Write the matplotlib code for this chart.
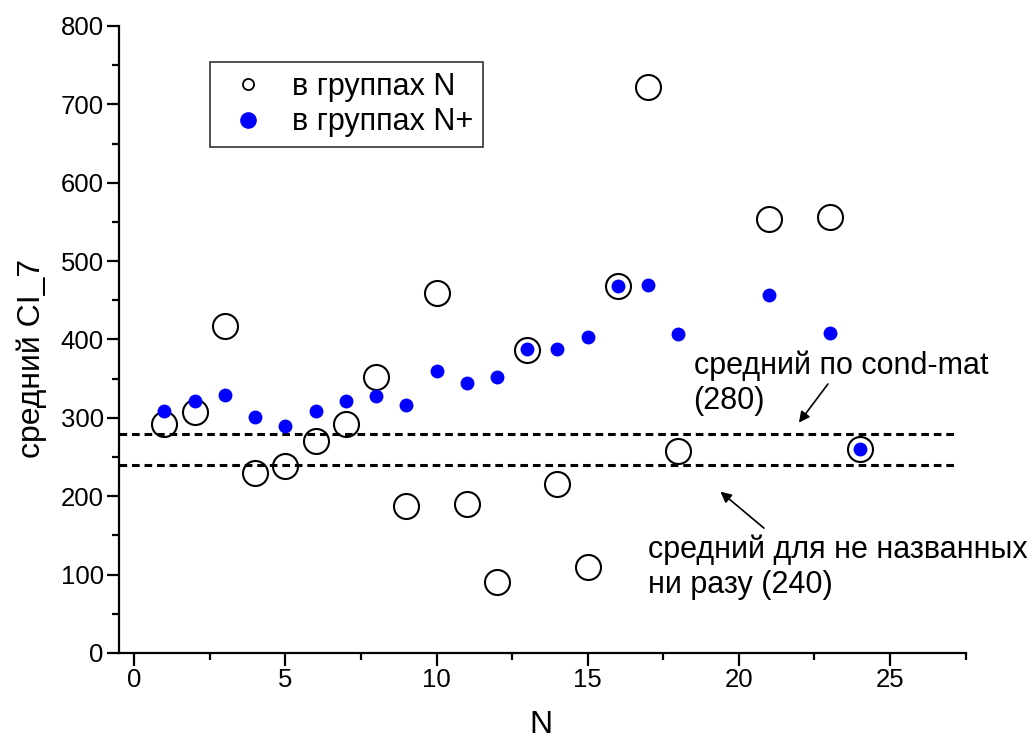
import numpy as np
import matplotlib.pyplot as plt
from matplotlib.lines import Line2D
from matplotlib.ticker import MultipleLocator

plt.rcParams['font.family'] = ['Liberation Sans', 'DejaVu Sans']

# group size N and the mean CI_7 for each group
n_pos = [1, 2, 3, 4, 5, 6, 7, 8, 9, 10, 11, 12, 13, 14, 15, 16, 17, 18, 21, 23, 24]
ci_n = [292, 307, 417, 230, 239, 270, 292, 352, 188, 459, 190, 91, 386, 216,
        110, 468, 722, 258, 554, 556, 260]
ci_nplus = [309, 321, 329, 301, 290, 309, 321, 328, 316, 360, 344, 352, 388, 388,
            403, 468, 469, 407, 457, 408, 260]

# reference means
mean_condmat = 280
mean_unnamed = 240

fig = plt.figure(figsize=(10.35, 7.42), dpi=100)
ax = fig.add_axes([0.115, 0.12, 0.818, 0.845])

ax.plot(n_pos, ci_n, 'o', ms=18, mfc='none', mec='k', mew=1.5, zorder=3)
ax.plot(n_pos, ci_nplus, 'o', ms=10, mfc='#0000ff', mec='#0000ff', mew=0, zorder=4)

for val in (mean_condmat, mean_unnamed):
    ln, = ax.plot([-0.5, 27.25], [val, val], color='k', lw=2.2)
    ln.set_dashes((2.5, 1.6))

ax.set_xlim(-0.5, 27.5)
ax.set_ylim(0, 800)

for s in ('top', 'right'):
    ax.spines[s].set_visible(False)
for s in ('left', 'bottom'):
    ax.spines[s].set_linewidth(1.6)

ax.xaxis.set_major_locator(MultipleLocator(5))
ax.xaxis.set_minor_locator(MultipleLocator(2.5))
ax.yaxis.set_major_locator(MultipleLocator(100))
ax.yaxis.set_minor_locator(MultipleLocator(50))
ax.tick_params(which='major', direction='out', length=9, width=1.6, labelsize=18.5, pad=2)
ax.tick_params(which='minor', direction='out', length=5, width=1.6)

ax.set_xlabel('N', fontsize=23)
ax.set_ylabel('средний CI_7', fontsize=23)
ax.xaxis.label.set_va('baseline')
ax.xaxis.set_label_coords(0.498, -0.128)
ax.yaxis.set_label_coords(-0.085, 0.47)

handles = [
    Line2D([], [], ls='none', marker='o', ms=8, mfc='none', mec='k', mew=1.3),
    Line2D([], [], ls='none', marker='o', ms=12, mfc='#0000ff', mec='#0000ff', mew=0),
]
leg = ax.legend(handles, ['в группах N', 'в группах N+'], loc='upper left',
                bbox_to_anchor=(0.1074, 0.9426), borderaxespad=0, fontsize=22,
                frameon=True, fancybox=False, edgecolor='k', handletextpad=0.52,
                borderpad=0.32, labelspacing=0.18, handlelength=1.84)
leg.get_frame().set_linewidth(1.2)

# two-line notes, anchored at the baseline of their last line
ax.text(18.5, 311, 'средний по cond-mat\n(280)', fontsize=22, va='baseline',
        ha='left', linespacing=1.22)
ax.annotate('', xy=(21.93, 291), xytext=(23.0, 346),
            arrowprops=dict(arrowstyle='-|>', color='k', lw=1.2, mutation_scale=16))

ax.text(17.0, 77, 'средний для не названных\nни разу (240)', fontsize=22,
        va='baseline', ha='left', linespacing=1.22, clip_on=False)
ax.annotate('', xy=(19.32, 208), xytext=(20.9, 157),
            arrowprops=dict(arrowstyle='-|>', color='k', lw=1.2, mutation_scale=16))

fig.savefig('out.png', dpi=100)
